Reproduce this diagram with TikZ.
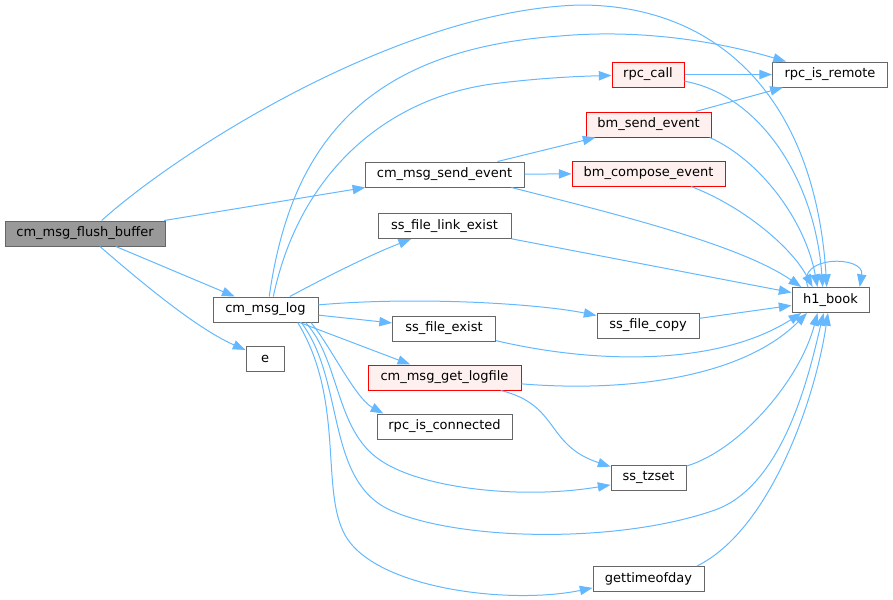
\documentclass[tikz,border=0pt]{standalone}
\usepackage{fontspec}
\setmainfont{DejaVu Sans}
\usetikzlibrary{arrows.meta}
\definecolor{edgeblue}{HTML}{63B8FF}
\definecolor{nodegray}{HTML}{666666}
\definecolor{redfill}{HTML}{FFF0F0}
\definecolor{rootfill}{HTML}{999999}
\tikzset{
  nbox/.style={draw=nodegray, fill=white, line width=0.75pt, minimum height=18.75pt,
    inner sep=0pt, font=\fontsize{9.75pt}{11pt}\selectfont},
  redbox/.style={nbox, draw=red, fill=redfill},
  rootbox/.style={nbox, fill=rootfill},
  bw/.style={minimum width=#1*0.75pt},
  conn/.style={draw=edgeblue, line width=0.75pt, -{Triangle[length=9.5pt,width=7pt]}},
}
\begin{document}
\begin{tikzpicture}[x=0.75pt,y=-0.75pt]
\useasboundingbox (0,0) rectangle (893,600);
% nodes
\node[rootbox,bw=160] (cfb) at (85,233.5) {cm\_msg\_flush\_buffer};
\node[nbox,bw=105] (log) at (265.5,309.5) {cm\_msg\_log};
\node[nbox,bw=38] (e) at (265,358.5) {e};
\node[nbox,bw=159] (cmse) at (444.5,174.5) {cm\_msg\_send\_event};
\node[nbox,bw=133] (sfle) at (444.5,226) {ss\_file\_link\_exist};
\node[nbox,bw=103] (sfe) at (444,328.5) {ss\_file\_exist};
\node[redbox,bw=153] (cmgl) at (444.5,377.5) {cm\_msg\_get\_logfile};
\node[nbox,bw=135] (ric) at (444.5,426.5) {rpc\_is\_connected};
\node[redbox,bw=72] (rpccall) at (648,74.5) {rpc\_call};
\node[redbox,bw=125] (bmse) at (648.5,124.5) {bm\_send\_event};
\node[redbox,bw=153] (bmce) at (648.5,173.5) {bm\_compose\_event};
\node[nbox,bw=115] (rir) at (830,74.5) {rpc\_is\_remote};
\node[nbox,bw=102] (sfc) at (648,325.5) {ss\_file\_copy};
\node[nbox,bw=77] (h1) at (830.5,300) {h1\_book};
\node[nbox,bw=75] (tz) at (648.5,477.5) {ss\_tzset};
\node[nbox,bw=111] (gtod) at (648.5,579) {gettimeofday};
% edges from cm_msg_flush_buffer
\draw[conn] (cfb.38) .. controls (180,150) and (400,10) .. (580,5) .. controls (720,5) and (815,100) .. (h1.106);
\draw[conn] (cfb) -- (cmse);
\draw[conn] (cfb) -- (log);
\draw[conn] (cfb) .. controls (150,290) and (200,330) .. (e);
% edges from cm_msg_log
\draw[conn] (log.74) .. controls (290,150) and (360,50) .. (560,36) .. controls (650,28) and (730,45) .. (rir);
\draw[conn] (log.59) .. controls (300,170) and (390,95) .. (500,83) .. controls (550,77) and (590,76) .. (rpccall);
\draw[conn] (log) .. controls (330,275) and (370,255) .. (sfle);
\draw[conn] (log) .. controls (420,296) and (540,304) .. (sfc.169);
\draw[conn] (log) -- (sfe);
\draw[conn] (log) -- (cmgl);
\draw[conn] (log.-16) .. controls (330,345) and (355,398) .. (ric.168);
\draw[conn] (log.-18) .. controls (340,360) and (335,430) .. (380,460) .. controls (420,488) and (520,500) .. (tz.191);
\draw[conn] (log.-20) .. controls (345,380) and (325,480) .. (390,510) .. controls (455,540) and (615,545) .. (715,510) .. controls (785,485) and (810,370) .. (h1.242);
\draw[conn] (log.-22) .. controls (345,400) and (320,490) .. (345,535) .. controls (375,589) and (510,605) .. (gtod.189);
% edges from cm_msg_send_event
\draw[conn] (cmse) -- (bmse);
\draw[conn] (cmse) -- (bmce);
\draw[conn] (cmse.-11) .. controls (620,215) and (740,245) .. (h1.156);
% others
\draw[conn] (sfle) -- (h1);
\draw[conn] (sfe) .. controls (600,365) and (720,365) .. (h1.204);
\draw[conn] (cmgl) .. controls (620,392) and (740,380) .. (h1.209);
\draw[conn] (cmgl.-13) .. controls (560,405) and (545,445) .. (tz.164);
\draw[conn] (rpccall) -- (rir);
\draw[conn] (rpccall) .. controls (760,95) and (815,180) .. (h1.121);
\draw[conn] (bmse) -- (rir);
\draw[conn] (bmse.-12.5) .. controls (760,160) and (805,220) .. (h1.135);
\draw[conn] (bmce.-17.6) .. controls (740,205) and (790,245) .. (h1.144);
\draw[conn] (sfc) -- (h1);
\draw[conn] (tz) .. controls (740,450) and (800,380) .. (h1.225);
\draw[conn] (gtod.15) .. controls (770,530) and (815,400) .. (h1.259);
\draw[conn] (h1.150) .. controls (795,255) and (865,255) .. (h1.24);
\end{tikzpicture}
\end{document}
